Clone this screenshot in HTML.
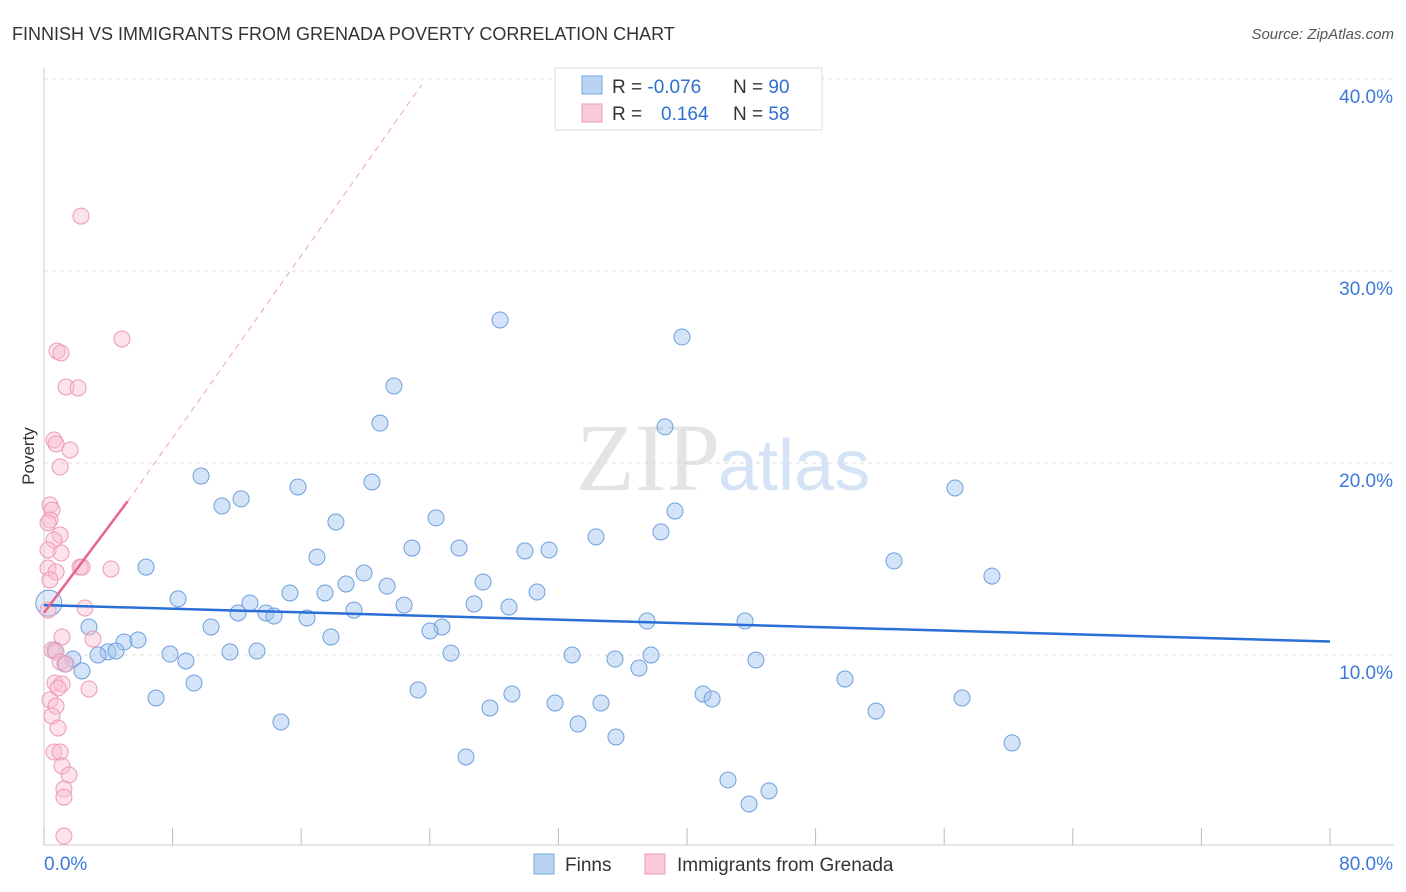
<!DOCTYPE html>
<html><head><meta charset="utf-8"><style>
body{margin:0;background:#fff;font-family:"Liberation Sans",sans-serif;}
#wrap{position:relative;width:1406px;height:892px;overflow:hidden;}
</style></head><body>
<div id="wrap">
<svg id="chart" width="1406" height="892">
<text x="12" y="40" font-size="18" fill="#333">FINNISH VS IMMIGRANTS FROM GRENADA POVERTY CORRELATION CHART</text>
<text x="1394" y="39" font-size="15" fill="#555" font-style="italic" text-anchor="end">Source: ZipAtlas.com</text>
<text x="720" y="490" font-size="96" fill="#e4e4e4" text-anchor="end" font-family="Liberation Serif">ZIP</text>
<text x="718" y="490" font-size="72" fill="#d4e3f5">atlas</text>
<g id="grid"></g><g id="axes"></g><g id="trend"></g><g id="pts"></g>
<text x="34" y="456" font-size="17" fill="#333" transform="rotate(-90 34 456)" text-anchor="middle">Poverty</text>
<g>
<rect x="555" y="68" width="267" height="62" fill="#fff" stroke="#ddd"/>
<rect x="582" y="76" width="20" height="18" fill="#b9d3f3" stroke="#7aa6e0"/>
<rect x="582" y="104" width="20" height="18" fill="#fbcad8" stroke="#ee9ab3"/>
<text x="612" y="93" font-size="19" fill="#333">R = <tspan fill="#2d6fd0">-0.076</tspan></text>
<text x="733" y="93" font-size="19" fill="#333">N = <tspan fill="#2d6fd0">90</tspan></text>
<text x="612" y="120" font-size="19" fill="#333">R =</text>
<text x="661" y="120" font-size="19" fill="#2d6fd0">0.164</text>
<text x="733" y="120" font-size="19" fill="#333">N = <tspan fill="#2d6fd0">58</tspan></text>
</g>
<g>
<rect x="534" y="854" width="20" height="20" fill="#b9d3f3" stroke="#7aa6e0"/>
<text x="565" y="871" font-size="19" fill="#333">Finns</text>
<rect x="645" y="854" width="20" height="20" fill="#fbcad8" stroke="#ee9ab3"/>
<text x="677" y="871" font-size="19" fill="#333">Immigrants from Grenada</text>
</g>
</svg>
</div>
<script>
const yTicks=[10,20,30,40];
const xTickVals=[0,8,16,24,32,40,48,56,64,72,80];
const bluePx=[[500,320],[682,337],[394,386],[380,423],[665,427],[201,476],[372,482],[298,487],[955,488],[241,499],[222,506],[336,522],[436,518],[675,511],[661,532],[596,537],[412,548],[459,548],[525,551],[549,550],[317,557],[894,561],[146,567],[992,576],[364,573],[346,584],[387,586],[483,582],[290,593],[325,593],[537,592],[178,599],[250,603],[404,605],[474,604],[509,607],[238,613],[266,613],[274,616],[354,610],[307,618],[647,621],[745,621],[89,627],[211,627],[442,627],[430,631],[331,637],[124,642],[138,640],[108,652],[116,651],[98,655],[170,654],[230,652],[257,651],[451,653],[572,655],[651,655],[73,659],[186,661],[615,659],[756,660],[65,664],[82,671],[639,668],[845,679],[194,683],[418,690],[156,698],[512,694],[703,694],[712,699],[962,698],[555,703],[601,703],[490,708],[876,711],[281,722],[578,724],[616,737],[1012,743],[466,757],[728,780],[769,791],[749,804],[55,650]];
const pinkPx=[[81,216],[122,339],[57,351],[61,353],[66,387],[78,388],[54,440],[56,444],[70,450],[60,467],[50,505],[52,510],[50,520],[48,523],[60,535],[54,540],[48,550],[61,553],[48,568],[56,572],[80,567],[82,567],[111,569],[50,580],[85,608],[48,610],[62,637],[93,639],[52,650],[56,652],[60,662],[66,664],[55,683],[62,684],[58,688],[89,689],[50,700],[56,706],[52,716],[58,728],[54,752],[60,752],[62,766],[69,775],[64,789],[64,797],[64,836]];
// convert to data values (percent)
const blueX=bluePx.map(p=>+((p[0]-44)/1286*80).toFixed(2));
const blueY=bluePx.map(p=>+((847-p[1])/19.2).toFixed(2));
const pinkX=pinkPx.map(p=>+((p[0]-44)/1286*80).toFixed(2));
const pinkY=pinkPx.map(p=>+((847-p[1])/19.2).toFixed(2));
const blueTrend=[[0,12.6],[80,10.7]];
const pinkTrend=[[0,12.2],[5.2,18.0]];
const pinkDash=[[5.2,18.0],[23.5,39.7]];
const X=v=>44+v/80*1286, Y=v=>847-v*19.2;
const NS='http://www.w3.org/2000/svg';
function mk(t,a,parent){const e=document.createElementNS(NS,t);for(const k in a)e.setAttribute(k,a[k]);document.getElementById(parent).appendChild(e);return e;}
yTicks.forEach(t=>{
 const l=mk('line',{x1:44,x2:1394,y1:Y(t),y2:Y(t),stroke:'#ddd','stroke-dasharray':'4,4'},'grid');
 
 
 const tx=mk('text',{x:1393,y:Y(t)+24,'font-size':19,fill:'#3b78d8','text-anchor':'end'},'grid');
 tx.textContent=t.toFixed(1)+'%';
 
 
});
const xa=mk('line',{x1:44,x2:1394,y1:845,y2:845,stroke:'#ccc'},'axes');


const ya=mk('line',{x1:44,x2:44,y1:68,y2:845,stroke:'#ccc'},'axes');


xTickVals.forEach(t=>{
 const l=mk('line',{x1:X(t),x2:X(t),y1:828,y2:845,stroke:'#bbb'},'axes');
 
 
});
[[0,'0.0%','start',44],[80,'80.0%','end',1393]].forEach(d=>{
 const tx=mk('text',{x:d[3],y:870,'font-size':19,fill:'#3b78d8','text-anchor':d[2]},'axes');
 tx.textContent=d[1];
 
 
});
const pd=mk('line',{x1:X(pinkDash[0][0]),y1:Y(pinkDash[0][1]),x2:X(pinkDash[1][0]),y2:Y(pinkDash[1][1]),stroke:'#f0a0b8','stroke-dasharray':'6,5','stroke-width':1},'trend');


bluePx.forEach((p,i)=>{
 const c=mk('circle',{cx:X(blueX[i]),cy:Y(blueY[i]),r:8,fill:'rgba(160,196,240,0.45)',stroke:'#6f9fdc','stroke-width':1},'pts');
 
 
});
const big=mk('circle',{cx:X(0.3),cy:Y(12.7),r:13,fill:'rgba(160,196,240,0.35)',stroke:'#6f9fdc'},'pts');


pinkPx.forEach((p,i)=>{
 const c=mk('circle',{cx:X(pinkX[i]),cy:Y(pinkY[i]),r:8,fill:'rgba(248,190,208,0.45)',stroke:'#ee9ab3','stroke-width':1},'pts');
 
 
});
const bt=mk('line',{x1:X(blueTrend[0][0]),y1:Y(blueTrend[0][1]),x2:X(blueTrend[1][0]),y2:Y(blueTrend[1][1]),stroke:'#2a6fd6','stroke-width':2.5},'pts');


const pt=mk('line',{x1:X(pinkTrend[0][0]),y1:Y(pinkTrend[0][1]),x2:X(pinkTrend[1][0]),y2:Y(pinkTrend[1][1]),stroke:'#e8638d','stroke-width':2.5},'pts');


</script>
</body></html>
